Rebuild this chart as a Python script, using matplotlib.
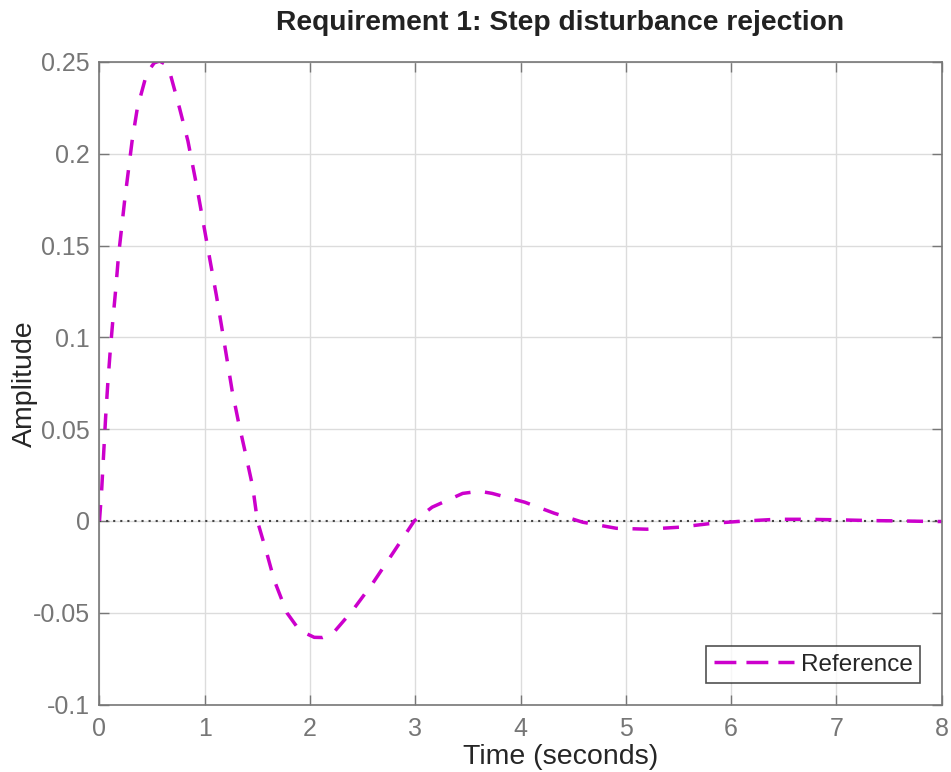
import matplotlib
matplotlib.use("Agg")
import matplotlib.pyplot as plt
from matplotlib.lines import Line2D

plt.rcParams['font.family'] = ['Liberation Sans', 'DejaVu Sans']

time_s = [0.0, 0.02, 0.059, 0.078, 0.10, 0.125, 0.154, 0.18, 0.24, 0.31, 0.36,
          0.45, 0.52, 0.57, 0.62, 0.67, 0.76, 0.84, 0.925, 1.05, 1.11, 1.16,
          1.21, 1.26, 1.32, 1.38, 1.456, 1.50, 1.59, 1.66, 1.78, 1.90, 2.04,
          2.12, 2.215, 2.405, 2.595, 2.785, 2.99, 3.16, 3.45, 3.61, 3.73, 4.04,
          4.32, 4.59, 4.91, 5.20, 5.51, 5.82, 6.14, 6.43, 6.72, 7.03, 7.33,
          7.62, 7.91, 8.0]
amplitude = [0.0, 0.016, 0.057, 0.074, 0.091, 0.108, 0.126, 0.144, 0.175, 0.207,
             0.225, 0.244, 0.2495, 0.2505, 0.249, 0.244, 0.225, 0.207, 0.182,
             0.142, 0.123, 0.106, 0.0885, 0.071, 0.054, 0.0386, 0.0185, 0.0,
             -0.0177, -0.0323, -0.050, -0.0596, -0.0634, -0.0635, -0.0614,
             -0.0487, -0.034, -0.0177, 0.0, 0.0075, 0.015, 0.0162, 0.015, 0.0102,
             0.0042, -0.0007, -0.004, -0.0045, -0.0034, -0.0013, 0.0, 0.0009,
             0.0009, 0.0006, 0.0002, 0.0, -0.0003, -0.0003]

xticks = [0, 1, 2, 3, 4, 5, 6, 7, 8]
yticks = [-0.1, -0.05, 0, 0.05, 0.1, 0.15, 0.2, 0.25]
ytick_labels = ["-0.1", "-0.05", "0", "0.05", "0.1", "0.15", "0.2", "0.25"]

MAGENTA = '#CC00CC'

fig = plt.figure(figsize=(9.51, 7.72), dpi=100)
ax = fig.add_axes([0.1046, 0.0874, 0.9902 - 0.1046, 0.9197 - 0.0874])

ax.plot([0, 8], [0, 0], linestyle=(0, (1, 2.4)), color='#444444', linewidth=1.5)
ax.plot(time_s, amplitude, color=MAGENTA, linewidth=2.5,
        linestyle=(0, (4.6, 4.2)))

ax.set_xlim(0, 8)
ax.set_ylim(-0.1, 0.25)
ax.set_xticks(xticks)
ax.set_xticklabels([str(v) for v in xticks])
ax.set_yticks(yticks)
ax.set_yticklabels(ytick_labels)

ax.grid(True, color='#DCDCDC', linewidth=1.0)
ax.set_axisbelow(True)
for s in ax.spines.values():
    s.set_color('#777777')
    s.set_linewidth(1.2)
ax.tick_params(direction='in', length=7, width=1.0, color='#777777',
               labelcolor='#767676', labelsize=18, top=True, right=True)
ax.tick_params(axis='x', pad=9)
ax.tick_params(axis='y', pad=7)

ax.set_title('Requirement 1: Step disturbance rejection', fontsize=20.3,
             fontweight='bold', color='#222222', pad=23, x=0.547)
ax.set_xlabel('Time (seconds)', fontsize=20.5, color='#262626')
ax.xaxis.set_label_coords(0.547, -0.062)
ax.set_ylabel('Amplitude', fontsize=20.5, color='#262626')
ax.yaxis.set_label_coords(-0.073, 0.5)

handle = Line2D([], [], color=MAGENTA, linewidth=2.5, linestyle=(0, (6.3, 2.9)))
leg = ax.legend([handle], ['Reference'], loc='lower right',
                bbox_to_anchor=(0.9742, 0.0335), borderaxespad=0.0,
                fontsize=17.5, frameon=True, fancybox=False,
                edgecolor='#262626', borderpad=0.3, handlelength=3.3,
                handletextpad=0.29)
leg.get_frame().set_linewidth(1.2)
for t in leg.get_texts():
    t.set_color('#262626')

fig.savefig('out.png', dpi=100)
